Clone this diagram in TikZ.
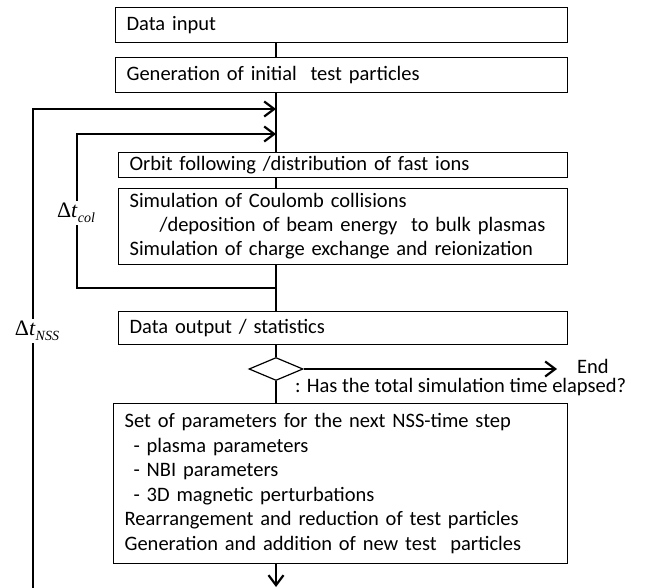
\documentclass[tikz,border=0pt]{standalone}
\usepackage{fontspec}
\setmainfont{Carlito}
\newfontfamily\tms{Liberation Serif}
\usetikzlibrary{arrows.meta,shapes.geometric}

\begin{document}
\begin{tikzpicture}[x=1pt,y=-1pt,
  box/.style={draw,line width=1.2pt,anchor=north west,inner xsep=11pt,inner ysep=0pt,align=left,
    font=\fontsize{20.5}{24}\selectfont},
  flow/.style={line width=2.2pt},
  barb/.style={-{Straight Barb[length=10pt,width=15pt]}},
  dt/.style={fill=white,inner sep=2pt,font=\tms\fontsize{22}{24}\selectfont}]
\useasboundingbox (0,0) rectangle (656,588);

\coordinate (spine) at (276,0);

% boxes
\node[box,text width=430pt,minimum height=35pt] (input) at (115,7) {Data input};
\node[box,text width=430pt,minimum height=35pt] (gen) at (115,57) {Generation of initial\ \ test particles};
\node[box,text width=427pt,minimum height=25pt] (orbit) at (118,152) {Orbit following /distribution of fast ions};
\node[box,text width=427pt,minimum height=76pt] (sim) at (118,188) {Simulation of Coulomb collisions\\
  \hspace*{30pt}\mbox{/deposition of beam energy\ \ to bulk plasmas}\\
  Simulation of charge exchange and reionization};
\node[box,text width=427pt,minimum height=33pt] (output) at (118,311) {Data output / statistics};
\node[diamond,draw,line width=1.2pt,minimum width=54pt,minimum height=23pt,inner sep=0pt] (check) at (276,369) {};
\node[box,text width=432pt,minimum height=160pt,font=\fontsize{20.5}{24.6}\selectfont] (params) at (113,403) {Set of parameters for the next NSS-time step\\
  \hspace*{9pt}- plasma parameters\\
  \hspace*{9pt}- NBI parameters\\
  \hspace*{9pt}- 3D magnetic perturbations\\
  Rearrangement and reduction of test particles\\
  Generation and addition of new test\ \ particles};

\node[anchor=west,inner xsep=20pt,font=\fontsize{20.5}{24}\selectfont] (end) at (557,366) {End};
\node[anchor=west,inner sep=2pt,font=\fontsize{20.5}{24}\selectfont] (ask) at (293,387) {: Has the total simulation time elapsed?};

% loop points
\coordinate (nssin) at (276,109);
\coordinate (colin) at (276,134);
\coordinate (colout) at (276,288);
\coordinate (colleft) at (77,134);
\coordinate (nssfoot) at (33,588);
\coordinate (tail) at (276,587);

% main flow
\draw[flow] (input.south -| spine) -- (gen.north -| spine);
\draw[flow] (gen.south -| spine) -- (orbit.north -| spine);
\draw[flow] (orbit.south -| spine) -- (sim.north -| spine);
\draw[flow] (sim.south -| spine) -- (output.north -| spine);
\draw[flow] (output.south -| spine) -- (check.north);
\draw[flow] (check.south) -- (params.north -| spine);
\draw[flow,barb] (params.south -| spine) -- (tail);
\draw[flow,barb] (check.east) -- (check.east -| end.west);

% loops
\draw[flow,barb] (colout) -| (colleft) -- (colin);
\draw[flow,barb] (nssfoot) |- (nssin);

\node[dt] (dtcol) at (76,213) {Δ\textit{t}\raisebox{-5pt}{\fontsize{14}{14}\selectfont\textit{col}}};
\node[dt] (dtnss) at (37,331) {Δ\textit{t}\raisebox{-5pt}{\fontsize{14}{14}\selectfont\textit{NSS}}};
\end{tikzpicture}
\end{document}
